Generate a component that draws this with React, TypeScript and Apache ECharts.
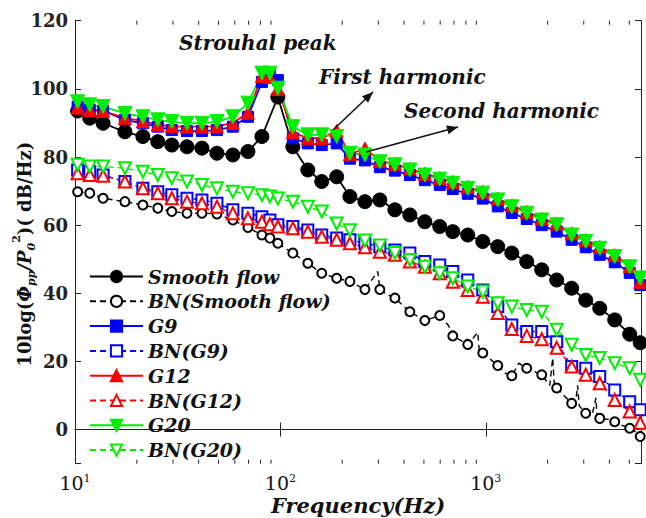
import React, { useEffect, useRef } from "react";
import * as echarts from "echarts";

// Frequency grid (Hz) shared by all spectra
const FREQ = [
  10.3, 11.8, 13.7, 17.5, 21.4, 25.3, 29.6, 35.1, 41.5, 49.1,
  58.7, 69.5, 81.3, 88.9, 97.2, 115, 136, 159, 188, 218,
  258, 305, 361, 427, 505, 597, 691, 817, 967, 1144,
  1339, 1583, 1873, 2215, 2620, 3067, 3589, 4245, 5022, 5650,
];

// Power spectral density, dB/Hz
const SMOOTH = [
  93.5, 91.4, 89.9, 87.4, 86, 84.5, 83.5, 83, 82.6, 81.1,
  80.6, 81.6, 86, null, 97.6, 83, 76.2, 72.8, 74.2, 68.4,
  66.9, 67.4, 64.5, 63, 61, 59.6, 58.1, 57.1, 55.2, 53.7,
  51.8, 49.3, 46.9, 43.9, 41.5, 38, 35.6, 32.2, 28, 25.5,
];
const BN_SMOOTH = [
  69.8, 69.4, 67.9, 66.9, 65.9, 65, 64, 63.5, 63.5, 63.3,
  61.5, 59.3, 57.1, 56.2, 54.7, 51.8, 48.8, 45.9, 44.4, 43.5,
  41.1, 41.1, 38.6, 34.6, 32, 33.5, 27.5, 25, 22.5, 18.8,
  15.8, 18, 16.1, 12.2, 7.7, 4.8, 3.3, 2.3, 0.4, -2,
];
// Unmarked intermediate samples of the noisy BN(Smooth flow) trace
const BN_SMOOTH_FINE_F = [
  298, 312, 660, 740, 914, 930, 1250, 1450, 1700, 2050,
  2118, 2160, 2750, 2800, 2850, 3300, 3440, 3480, 4000, 4500, 5300,
];
const BN_SMOOTH_FINE_V = [
  46.4, 40.5, 30.5, 26.5, 28.5, 23, 16.5, 19.5, 17.2, 13,
  21, 12.5, 9, 13, 7, 4.5, 9.3, 4, 3, 1.5, -0.5,
];
const G9 = [
  94.8, 93.8, 93.6, 90.9, 89.9, 88.9, 87.9, 87.6, 87.6, 87.9,
  88.9, 91.8, 102, 104.5, 102.6, 85.5, 84, 83.5, 84, 79.5,
  79, 77, 76, 74.7, 73.2, 71.8, 70.6, 69.2, 67.8, 65.5,
  63.6, 61.8, 60, 58.1, 55.7, 53.5, 51.3, 49.1, 46, 42.4,
];
const BN_G9 = [
  76.2, 75.7, 74.7, 72.8, 70.8, 69.8, 68.9, 67.9, 67.4, 66.4,
  64.5, 63.5, 62.5, 61.5, 60.1, 59.6, 58.6, 57.1, 56.2, 55.7,
  54.7, 53.7, 52.7, 51.8, 49.3, 48.3, 46.4, 43.9, 41, 36.1,
  30.7, 28.8, 28.8, 25.8, 18.5, 18, 15.6, 11.6, 8.2, 5.8,
];
const G12 = [
  94.5, 93.8, 93.5, 91.5, 90.5, 89.5, 89, 88.9, 88.9, 89,
  90, 93, 103.8, 103.5, 100, 87.3, 85.5, 85.5, 87.7, 80.8,
  82.5, 78.8, 78, 76.6, 75.1, 73.8, 72.7, 71.2, 69.8, 67.8,
  65.8, 63.9, 61.9, 60.5, 57.6, 55.6, 53.6, 51.2, 48, 43.4,
];
const BN_G12 = [
  75.2, 74.7, 74.5, 72.8, 70.8, 69.4, 67.9, 66.9, 66.4, 65.4,
  63.5, 62, 61, 60.3, 59.6, 59.1, 58.1, 56.6, 55.7, 54.7,
  53.5, 52.2, 51.3, 49.3, 47.8, 45.9, 43.4, 41, 39, 34.2,
  29.5, 27.5, 26.5, 24, 18.5, 16.1, 13.6, 8.7, 5.3, 2,
];
const G20 = [
  96.2, 95.3, 94.8, 92.8, 91.8, 90.9, 90.4, 89.9, 89.9, 90.4,
  91.8, 95.8, 104.6, 104.6, 100.2, 88.9, 86.5, 86.5, 86, 81.1,
  80.6, 78.6, 77.7, 76.2, 74.7, 73.5, 72.3, 70.8, 69.4, 67.4,
  65.4, 63.5, 61.5, 60.1, 57.1, 55.2, 53.2, 50.8, 47.8, 44.5,
];
const BN_G20 = [
  77.7, 77.2, 77.2, 76.7, 75.7, 74.7, 73.8, 72.8, 71.8, 70.8,
  69.8, 69.4, 68.8, 68.4, 67.8, 66.9, 65.4, 64, 60.5, 58.5,
  55.5, 54, 51.8, 49.8, 47.8, 45.9, 44.4, 42, 40.5, 37.1,
  36.1, 35.1, 34.6, 29.3, 24.9, 21.9, 21, 19.5, 18, 14.6,
];

const NAMES = [
  "Smooth flow",
  "BN(Smooth flow)",
  "G9",
  "BN(G9)",
  "G12",
  "BN(G12)",
  "G20",
  "BN(G20)",
];

// Minor ticks of the log frequency axis
const MINOR_TICKS = [
  20, 30, 40, 50, 60, 70, 80, 90,
  200, 300, 400, 500, 600, 700, 800, 900,
  2000, 3000, 4000, 5000,
];

const SERIF = "DejaVu Serif";
const AXIS_COLOR = "#222";

function arrowHead(x1: number, y1: number, x2: number, y2: number, len = 11, half = 4.5) {
  const dx = x2 - x1;
  const dy = y2 - y1;
  const d = Math.hypot(dx, dy);
  const ux = dx / d;
  const uy = dy / d;
  const bx = x2 - ux * len;
  const by = y2 - uy * len;
  return [
    [x2, y2],
    [bx - uy * half, by + ux * half],
    [bx + uy * half, by - ux * half],
  ];
}

function lineSeries(
  name: string,
  data: any[],
  color: string,
  symbol: string,
  symbolSize: number,
  dashed: boolean,
  rotate = 0
) {
  return {
    type: "line",
    name,
    data,
    connectNulls: true,
    symbol,
    symbolSize,
    symbolRotate: rotate,
    showAllSymbol: true,
    z: 2,
    itemStyle: { color, borderColor: color, borderWidth: dashed ? 1.6 : 1 },
    lineStyle: { color, width: dashed ? 1.4 : 1.8, type: dashed ? [6, 4] : "solid" },
    emphasis: { disabled: true },
  };
}

const pairs = (values: (number | null)[]) => FREQ.map((f, i) => [f, values[i]]);

// Marked samples merged with the unmarked fine samples, in frequency order
function bnSmoothData() {
  const marked = FREQ.map((f, i) => ({ value: [f, BN_SMOOTH[i]] }));
  const fine = BN_SMOOTH_FINE_F.map((f, i) => ({ value: [f, BN_SMOOTH_FINE_V[i]], symbol: "none" }));
  return [...marked, ...fine].sort((a, b) => a.value[0] - b.value[0]);
}

export default function App() {
  const ref = useRef<HTMLDivElement>(null);

  useEffect(() => {
    if (!ref.current) return;
    const chart = echarts.init(ref.current, undefined, { renderer: "svg" });

    const a1 = { x1: 333, y1: 130, x2: 373, y2: 92 };
    const a2 = { x1: 366, y1: 152, x2: 458, y2: 127 };

    const annText = (text: string, x: number, y: number) => ({
      type: "text",
      x,
      y,
      style: {
        text,
        fill: "#111",
        font: `italic bold 20px "${SERIF}"`,
        verticalAlign: "middle",
        align: "left",
      },
      z: 10,
    });

    const option: any = {
      animation: false,
      backgroundColor: "#ffffff",
      grid: { left: 75, right: 5, top: 20.7, bottom: 54.3, outerBoundsMode: "none", containLabel: false },
      xAxis: [
        {
          type: "log",
          logBase: 10,
          min: 10,
          max: 5700,
          position: "bottom",
          axisLine: { show: true, lineStyle: { color: AXIS_COLOR, width: 1 } },
          axisTick: { show: true, inside: true, length: 7, lineStyle: { color: AXIS_COLOR } },
          splitLine: { show: false },
          minorTick: { show: false },
          axisLabel: {
            margin: 9,
            showMaxLabel: false,
            formatter: (v: number) => {
              const e = Math.log10(v);
              if (Math.abs(e - Math.round(e)) > 1e-6) return "";
              return `{b|10}{s|${Math.round(e)}}`;
            },
            rich: {
              b: { fontFamily: SERIF, fontSize: 19, color: "#111", lineHeight: 20, verticalAlign: "bottom" },
              s: { fontFamily: SERIF, fontSize: 11, color: "#111", lineHeight: 12, verticalAlign: "top" },
            },
          },
          name: "Frequency(Hz)",
          nameLocation: "middle",
          nameGap: 31,
          nameMoveOverlap: false,
          nameTextStyle: {
            fontFamily: SERIF,
            fontSize: 21,
            fontStyle: "italic",
            fontWeight: "bold",
            color: "#111",
            lineHeight: 22,
          },
        },
        {
          type: "log",
          logBase: 10,
          min: 10,
          max: 5700,
          position: "top",
          axisLine: { show: true, lineStyle: { color: AXIS_COLOR, width: 1 } },
          axisTick: { show: true, inside: true, length: 7, lineStyle: { color: AXIS_COLOR } },
          axisLabel: { show: false },
          splitLine: { show: false },
        },
      ],
      yAxis: [
        {
          type: "value",
          min: -10,
          max: 120,
          minInterval: 20,
          maxInterval: 20,
          position: "left",
          axisLine: { show: true, lineStyle: { color: AXIS_COLOR, width: 1 } },
          axisTick: { show: true, inside: true, length: 6, lineStyle: { color: AXIS_COLOR } },
          splitLine: { show: false },
          axisLabel: {
            margin: 7,
            fontFamily: SERIF,
            fontSize: 18,
            fontWeight: "bold",
            color: "#222",
            formatter: (v: number) => (v < 0 ? "" : String(v)),
          },
          name: "{a|10log}{a|(}{i|Φ}{s|pp}{i|/P}{s|0}{p|2}{a|)( dB/Hz)}",
          nameLocation: "middle",
          nameRotate: 90,
          nameGap: 38,
          nameMoveOverlap: false,
          nameTextStyle: {
            padding: [0, 24, 0, 0],
            rich: {
              a: { fontFamily: SERIF, fontSize: 18, fontWeight: "bold", color: "#111", lineHeight: 26 },
              i: { fontFamily: SERIF, fontSize: 18, fontWeight: "bold", fontStyle: "italic", color: "#111", lineHeight: 26 },
              s: { fontFamily: SERIF, fontSize: 11, fontWeight: "bold", fontStyle: "italic", color: "#111", lineHeight: 13, verticalAlign: "bottom" },
              p: { fontFamily: SERIF, fontSize: 11, fontWeight: "bold", color: "#111", lineHeight: 13, verticalAlign: "top" },
            },
          },
        },
        {
          type: "value",
          min: -10,
          max: 120,
          minInterval: 20,
          maxInterval: 20,
          position: "right",
          axisLine: { show: true, lineStyle: { color: AXIS_COLOR, width: 1 } },
          axisTick: { show: true, inside: true, length: 6, lineStyle: { color: AXIS_COLOR } },
          axisLabel: { show: false },
          splitLine: { show: false },
        },
      ],
      legend: {
        data: NAMES,
        orient: "vertical",
        left: 84,
        top: 262,
        itemWidth: 53,
        itemHeight: 14,
        itemGap: 5.8,
        selectedMode: false,
        textStyle: {
          fontFamily: SERIF,
          fontSize: 19,
          fontStyle: "italic",
          fontWeight: "bold",
          color: "#111",
        },
      },
      series: [
        {
          type: "custom",
          name: "minorTicks",
          silent: true,
          clip: false,
          z: 1,
          data: MINOR_TICKS.map((f) => [f, 0]),
          encode: { x: 0, y: 1 },
          renderItem: (params: any, api: any) => {
            const x = api.coord([api.value(0), 0])[0];
            const cs = params.coordSys;
            const top = cs.y;
            const bot = cs.y + cs.height;
            return {
              type: "group",
              children: [
                { type: "line", shape: { x1: x, y1: bot, x2: x, y2: bot - 4 }, style: { stroke: AXIS_COLOR, lineWidth: 1 } },
                { type: "line", shape: { x1: x, y1: top, x2: x, y2: top + 4 }, style: { stroke: AXIS_COLOR, lineWidth: 1 } },
              ],
            };
          },
        },
        lineSeries(NAMES[0], pairs(SMOOTH), "#000000", "circle", 14, false),
        lineSeries(NAMES[1], bnSmoothData(), "#000000", "emptyCircle", 9, true),
        lineSeries(NAMES[2], pairs(G9), "#0000ff", "rect", 11, false),
        lineSeries(NAMES[3], pairs(BN_G9), "#0000ff", "emptyRect", 11, true),
        lineSeries(NAMES[4], pairs(G12), "#ff0000", "triangle", 13, false),
        lineSeries(NAMES[5], pairs(BN_G12), "#ff0000", "emptyTriangle", 12, true),
        lineSeries(NAMES[6], pairs(G20), "#00ee00", "triangle", 14, false, 180),
        lineSeries(NAMES[7], pairs(BN_G20), "#00ee00", "emptyTriangle", 12, true, 180),
      ],
      graphic: [
        annText("Strouhal peak", 179, 43),
        annText("First harmonic", 319, 77),
        annText("Second harmonic", 404, 111),
        { type: "line", shape: { x1: a1.x1, y1: a1.y1, x2: a1.x2, y2: a1.y2 }, style: { stroke: "#111", lineWidth: 1.6 }, z: 10 },
        { type: "polygon", shape: { points: arrowHead(a1.x1, a1.y1, a1.x2, a1.y2) }, style: { fill: "#111" }, z: 10 },
        { type: "line", shape: { x1: a2.x1, y1: a2.y1, x2: a2.x2, y2: a2.y2 }, style: { stroke: "#111", lineWidth: 1.6 }, z: 10 },
        { type: "polygon", shape: { points: arrowHead(a2.x1, a2.y1, a2.x2, a2.y2) }, style: { fill: "#111" }, z: 10 },
      ],
    };

    chart.setOption(option);
    return () => chart.dispose();
  }, []);

  return (
    <div
      ref={ref}
      style={{ position: "fixed", left: 0, top: 0, width: 646, height: 518, background: "#fff" }}
    />
  );
}
